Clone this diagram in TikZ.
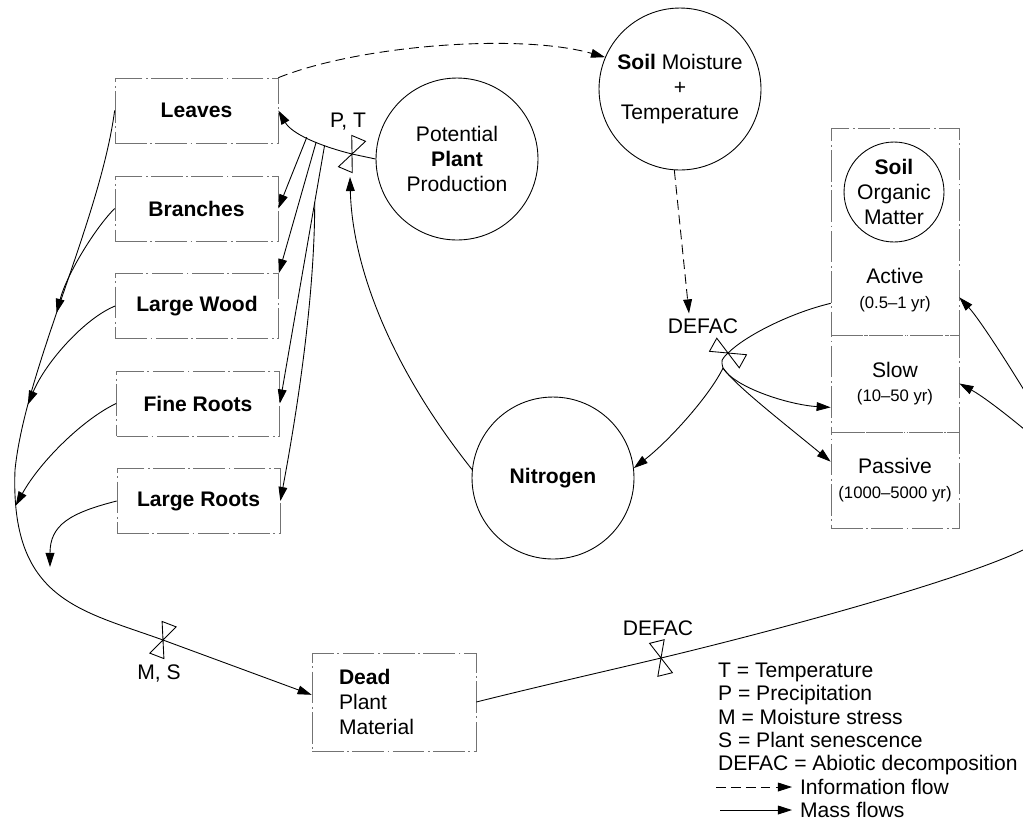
\documentclass[tikz,border=0pt]{standalone}
\usepackage{fontspec}
\setmainfont{Liberation Sans}
\usetikzlibrary{arrows.meta, calc}

\newcommand{\figfont}{\fontsize{12}{14}\selectfont}
\newcommand{\smallfig}{\fontsize{9.5}{11}\selectfont}

\tikzset{
  pool/.style={draw=black!55, line width=0.4pt, dash pattern=on 18pt off 2pt on 1pt off 2pt,
    minimum width=3.26cm, minimum height=1.3cm, inner sep=0pt, font=\figfont\bfseries},
  somcell/.style={draw=black!55, line width=0.4pt, dash pattern=on 18pt off 2pt on 1pt off 2pt,
    minimum width=2.56cm, inner sep=0pt, align=center},
  proc/.style={circle, draw, line width=0.5pt, minimum size=3.24cm, inner sep=0pt, align=center},
  mass/.style={line width=0.5pt, -{Triangle[length=8pt,width=5pt]}},
  info/.style={mass, dash pattern=on 5.5pt off 3pt},
  flowlbl/.style={inner sep=1pt},
  keytext/.style={anchor=base west, inner sep=1pt},
  valve/.pic={
    \draw[line width=0.5pt] (0,0) -- (-7.5,-17) -- (7.5,-17) -- cycle;
    \draw[line width=0.5pt] (0,0) -- (-7.5,17) -- (7.5,17) -- cycle;
  },
}

\begin{document}
\begin{tikzpicture}[x=0.02cm, y=-0.02cm, font=\figfont]
    \useasboundingbox (0,0) rectangle (1023,833);
    \clip (0,0) rectangle (1023,833);

    % plant pools
    \node[pool] (leaves) at (196.5,110.5) {Leaves};
    \node[pool] (branches) at (196.5,208.5) {Branches};
    \node[pool] (wood) at (197,306) {Large Wood};
    \node[pool] (fine) at (198,403.5) {Fine Roots};
    \node[pool] (lroots) at (198.5,501) {Large Roots};
    \node[pool, font=\figfont, align=left, text width=2.2cm, minimum width=3.28cm,
        minimum height=1.96cm] (dead) at (394,702) {\textbf{Dead}\\Plant\\Material};

    % driving circles
    \node[proc] (ppp) at (457,159) {Potential\\\textbf{Plant}\\Production};
    \node[proc] (smt) at (680,89) {\textbf{Soil} Moisture\\+\\Temperature};
    \node[proc] (nitro) at (553,478) {\textbf{Nitrogen}};

    % soil organic matter column
    \node[somcell, minimum height=4.14cm] (active) at (895,231.5) {};
    \node[somcell, minimum height=1.94cm] (slow) at (895,383.5) {Slow\\{\smallfig (10--50 yr)}};
    \node[somcell, minimum height=1.92cm] (passive) at (895,480) {Passive\\{\smallfig (1000--5000 yr)}};
    \node[proc, minimum size=2cm] (som) at (894,192) {\textbf{Soil}\\Organic\\Matter};
    \node[align=center] (activetxt) at (895,290) {Active\\{\smallfig (0.5--1 yr)}};

    % valves and their labels
    \coordinate (vPT) at (352,154);
    \coordinate (vMS) at (163,640);
    \coordinate (vDS) at (728,353);
    \coordinate (vDD) at (661,658);
    \pic[rotate=-23] at (vPT) {valve};
    \pic[rotate=-21] at (vMS) {valve};
    \pic[rotate=61] at (vDS) {valve};
    \pic[rotate=14] at (vDD) {valve};
    \node[flowlbl] (lblPT) at (348,122) {P, T};
    \node[flowlbl] (lblMS) at (159,673) {M, S};
    \node[flowlbl] (lblDS) at (703,326) {DEFAC};
    \node[flowlbl] (lblDD) at (658,628) {DEFAC};

    % production to leaves, with the other plant parts branching off
    \draw[mass] (ppp.west) -- (vPT) .. controls (320,146) and (292,134) .. (leaves.east)
        coordinate[pos=0.3] (bF) coordinate[pos=0.4] (bW) coordinate[pos=0.52] (bB);
    \draw[mass] (bB) -- (branches.east);
    \draw[mass] (bW) -- (wood.north east);
    \draw[mass] (bF) -- (fine.east);
    \coordinate (bR) at ($(bF)!0.22!(fine.east)$);
    \draw[mass] (bR) .. controls +(0,100) and +(15,-80) .. (lroots.east);

    % nitrogen limits production
    \coordinate (vPTin) at (350,177);
    \draw[mass] (nitro.174) .. controls (385,360) and (352,260) .. (vPTin);

    % litter fall to dead plant material
    \coordinate (lbend) at (15,470);
    \draw[mass] (leaves.west) .. controls (100,220) and (25,370) .. (lbend)
        coordinate[pos=0.55] (cB) coordinate[pos=0.8] (cW)
        .. controls (10,600) and (80,610) .. (vMS)
        coordinate[pos=0.1] (cF)
        -- (dead.175);
    \coordinate (cR) at (50,567);
    \draw[mass] (branches.west) .. controls +(-20,20) and +(10,-38) .. (cB);
    \draw[mass] (wood.west) .. controls +(-30,12) and +(18,-43) .. (cW);
    \draw[mass] (fine.west) .. controls +(-32,15) and +(25,-45) .. (cF);
    \draw[mass] (lroots.west) .. controls +(-47,12) and +(0,-42) .. (cR);

    % dead material decomposes into active and slow pools
    \coordinate (eR) at (1023,550);
    \coordinate (jR) at (1070,470);
    \draw[line width=0.5pt] (dead.east) .. controls (540,686) and (615,669) .. (vDD)
        .. controls (790,627) and (960,580) .. (eR) .. controls (1060,535) and (1075,500) .. (jR);
    \draw[mass] (jR) .. controls (1050,430) and (985,325) .. ($(active.south east)+(0,-38)$);
    \draw[mass] (jR) .. controls (1045,445) and (990,400) .. (slow.east);

    % active pool turnover
    \coordinate (sJ) at (723,368);
    \draw[line width=0.5pt] ($(active.south west)+(0,-32)$) .. controls (790,313) and (745,336) .. (vDS)
        .. controls (721,360) .. (sJ);
    \draw[mass] (sJ) .. controls (710,395) and (670,440) .. (nitro.7);
    \draw[mass] (sJ) .. controls (735,388) and (790,405) .. ($(slow.south west)+(0,-25)$);
    \draw[mass] (sJ) .. controls (735,385) and (780,420) .. ($(passive.north west)+(0,30)$);

    % information flows
    \draw[info] (leaves.north east) .. controls (360,45) and (520,33) .. (smt.157);
    \draw[info] (smt.266) -- ($(lblDS.north)+(-14,-3)$);

    % key
    \node[keytext] (lgT) at (716,677.5) {T = Temperature};
    \node[keytext] (lgP) at (716,700.5) {P = Precipitation};
    \node[keytext] (lgM) at (716,724.5) {M = Moisture stress};
    \node[keytext] (lgS) at (716,747.5) {S = Plant senescence};
    \node[keytext] (lgD) at (716,770.5) {DEFAC = Abiotic decomposition};
    \node[keytext] (lgInfo) at (798,794.5) {Information flow};
    \node[keytext] (lgMass) at (798,817.5) {Mass flows};
    \coordinate (lgI0) at (716,787);
    \coordinate (lgM0) at (720,810);
    \draw[info] (lgI0) -- ($(lgInfo.west |- lgI0)+(-6,0)$);
    \draw[mass] (lgM0) -- ($(lgMass.west |- lgM0)+(-6,0)$);
\end{tikzpicture}
\end{document}
